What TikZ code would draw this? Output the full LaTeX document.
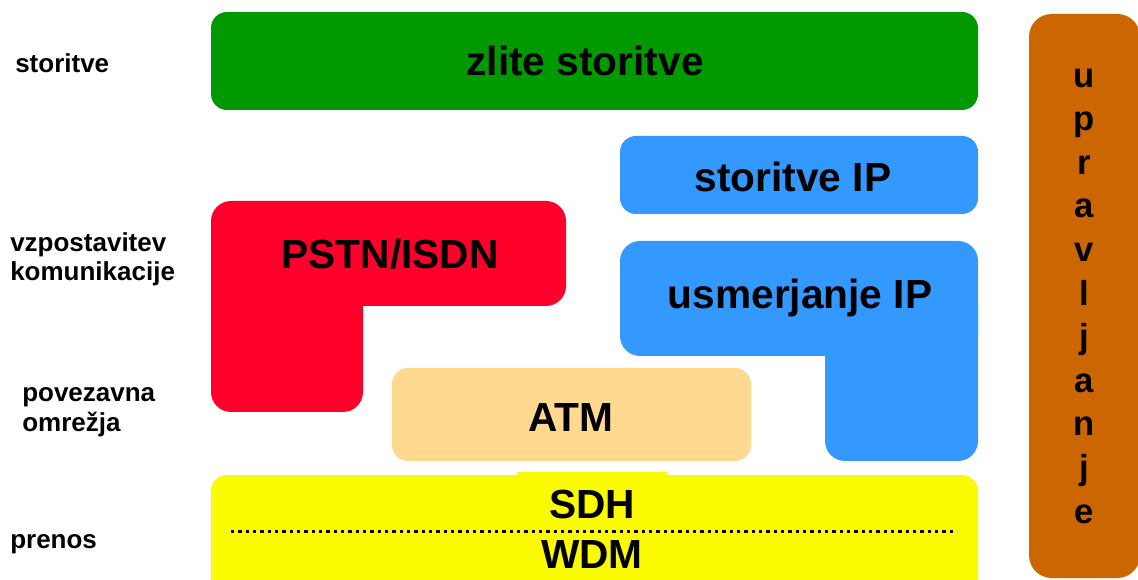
\documentclass[tikz,border=0pt]{standalone}
\usepackage{fontspec}
\setmainfont{Liberation Sans}
\definecolor{servgreen}{RGB}{0,153,0}
\definecolor{ipblue}{RGB}{51,153,255}
\definecolor{pstnred}{RGB}{255,0,42}
\definecolor{atmtan}{RGB}{255,217,143}
\definecolor{sdhyellow}{RGB}{250,250,0}
\definecolor{mgmtorange}{RGB}{204,102,0}
\tikzset{
  block/.style={rounded corners=12pt},
  bigtext/.style={font=\fontsize{30.5pt}{36pt}\selectfont\bfseries, inner sep=0pt, anchor=base},
  sidetext/.style={font=\fontsize{19.5pt}{23pt}\selectfont\bfseries, inner sep=0pt, anchor=base west},
}
\begin{document}
\begin{tikzpicture}[x=0.75pt, y=-0.75pt]
\useasboundingbox (0,0) rectangle (1138,580);

% services layer
\fill[servgreen, block] (211,12) rectangle (978,110);
\node[bigtext] (zlite) at (585,76) {zlite storitve};

% IP services
\fill[ipblue, block] (620,136) rectangle (978,214);
\node[bigtext] (ipserv) at (793,192) {storitve IP};

% PSTN/ISDN (L-shaped block)
\fill[pstnred, rounded corners=15pt] (211,201) rectangle (566,306);
\fill[pstnred, rounded corners=15pt] (211,240) rectangle (363,412);
\node[bigtext] (pstn) at (390,269) {PSTN/ISDN};

% IP routing (L-shaped block)
\fill[ipblue, rounded corners=15pt] (620,241) rectangle (978,356);
\fill[ipblue, rounded corners=15pt] (825,290) rectangle (978,461);
\node[bigtext] (iprout) at (800,309) {usmerjanje IP};

% ATM
\fill[atmtan, block] (392,368) rectangle (751,461);
\node[bigtext] (atm) at (571,432) {ATM};

% transport: SDH over WDM
\fill[sdhyellow, block] (211,475) rectangle (978,600);
\fill[sdhyellow] (517,472) rectangle (667,478);
\node[bigtext] (sdh) at (592,518) {SDH};
\node[bigtext] (wdm) at (592,568) {WDM};
\coordinate (sepL) at (231,531.5);
\coordinate (sepR) at (957,531.5);
\draw[line width=2.5pt, dash pattern=on 2.5pt off 3pt] (sepL) -- (sepR);

% management column (baseline of the last letter sets the position)
\fill[mgmtorange, rounded corners=17pt] (1029,14) rectangle (1140,578);
\node[font=\fontsize{26pt}{32.7pt}\selectfont\bfseries, align=center, inner sep=0pt, anchor=base] (mgmt) at (1084,523)
  {u\\p\\r\\a\\v\\l\\j\\a\\n\\j\\e};

% layer names
\node[sidetext] (l1) at (15,73) {storitve};
\node[sidetext] (l2a) at (10,252) {vzpostavitev};
\node[sidetext] (l2b) at (10,281) {komunikacije};
\node[sidetext] (l3a) at (22,402) {povezavna};
\node[sidetext] (l3b) at (22,432) {omrežja};
\node[sidetext] (l4) at (10,548) {prenos};
\end{tikzpicture}
\end{document}
